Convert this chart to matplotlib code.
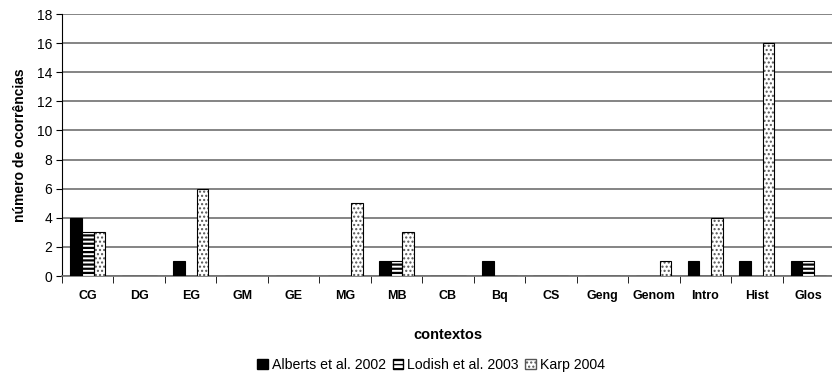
import numpy as np
import matplotlib.pyplot as plt
from matplotlib.patches import Patch

plt.rcParams['font.family'] = ['Liberation Sans', 'DejaVu Sans']

contextos = ['CG', 'DG', 'EG', 'GM', 'GE', 'MG', 'MB', 'CB', 'Bq', 'CS',
             'Geng', 'Genom', 'Intro', 'Hist', 'Glos']
alberts = [4, 0, 1, 0, 0, 0, 1, 0, 1, 0, 0, 0, 1, 1, 1]
lodish = [3, 0, 0, 0, 0, 0, 1, 0, 0, 0, 0, 0, 0, 0, 1]
karp = [3, 0, 6, 0, 0, 5, 3, 0, 0, 0, 0, 1, 4, 16, 0]

fig = plt.figure(figsize=(8.32, 3.74), dpi=100)
ax = fig.add_axes([62 / 832, 98 / 374, 772 / 832, 262 / 374])

x = np.arange(len(contextos))
w = 0.227

# Alberts: solid black
ax.bar(x - w, alberts, w, color='black', edgecolor='black', lw=0.8, zorder=3)
# Lodish: thick horizontal stripes
plt.rcParams['hatch.linewidth'] = 1.6
ax.bar(x, lodish, w, color='white', edgecolor='black', hatch='----', lw=0, zorder=3)
ax.bar(x, lodish, w, fill=False, edgecolor='black', lw=0.8, zorder=4)
# Karp: fine dots
plt.rcParams['hatch.linewidth'] = 1.0
ax.bar(x + w, karp, w, color='white', edgecolor='#555555', hatch='....', lw=0, zorder=3)
ax.bar(x + w, karp, w, fill=False, edgecolor='black', lw=0.8, zorder=4)

ax.set_xlim(-0.5, len(contextos) - 0.5)
ax.set_ylim(0, 18)
ax.set_yticks(np.arange(0, 19, 2))
ax.yaxis.grid(True, color='#707070', lw=1.2, zorder=0)
ax.set_axisbelow(True)

ax.set_xticks(x)
ax.set_xticklabels(contextos, fontsize=9, fontweight='bold')
ax.set_xticks(np.arange(-0.5, len(contextos)), minor=True)
ax.tick_params(axis='x', which='major', length=0, pad=10)
ax.tick_params(axis='x', which='minor', length=5, color='black', direction='out')
ax.tick_params(axis='y', labelsize=10, length=4, color='black', pad=3)

for s in ['top', 'right']:
    ax.spines[s].set_visible(False)
ax.spines['left'].set_color('black')
ax.spines['bottom'].set_color('#707070')
ax.spines['bottom'].set_linewidth(1.2)

ax.set_ylabel('número de ocorrências', fontsize=10, fontweight='bold', labelpad=7)
ax.set_xlabel('contextos', fontsize=10.5, fontweight='bold', labelpad=19)

handles = [Patch(facecolor='black', edgecolor='black'),
           Patch(facecolor='white', edgecolor='black', hatch='----'),
           Patch(facecolor='white', edgecolor='#555555', hatch='....')]
fig.legend(handles, ['Alberts et al. 2002', 'Lodish et al. 2003', 'Karp 2004'],
           loc='center', bbox_to_anchor=(431 / 832, 1 - 365 / 374), ncol=3,
           frameon=False, fontsize=10.2, handlelength=0.75, handleheight=0.75,
           handletextpad=0.25, columnspacing=0.5, borderpad=0.1)

fig.savefig('out.png', dpi=100)
